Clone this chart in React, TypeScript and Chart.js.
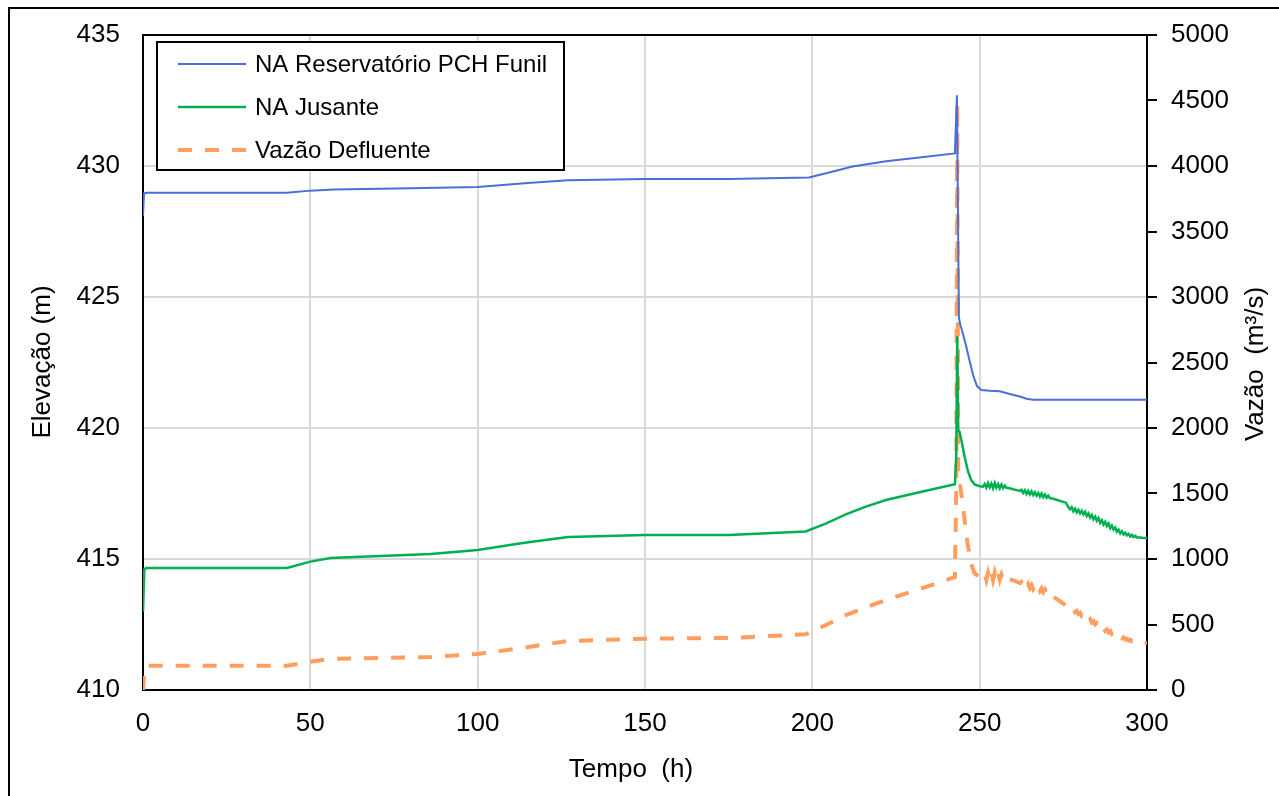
import React, { useEffect, useRef } from "react";
import { Chart, registerables } from "chart.js";

Chart.register(...registerables);

const FONT = "'Liberation Sans', Arial, sans-serif";

// X-axis ticks
const xTicks = [0, 50, 100, 150, 200, 250, 300];

// NA Reservatório PCH Funil (m)
const tRes = [0, 0.3, 1, 43, 50, 57, 80, 100, 115, 127, 150, 175, 199, 205, 212, 222, 232, 242.6, 243.2, 243.8, 244.3, 245.0, 246.0, 247.1, 248.2, 249.2, 250.5, 253, 256, 259, 262, 264, 266, 300];
const naRes = [428.1, 428.95, 428.98, 428.98, 429.06, 429.1, 429.15, 429.2, 429.35, 429.46, 429.5, 429.5, 429.56, 429.75, 429.98, 430.18, 430.32, 430.48, 432.7, 424.2, 423.9, 423.6, 423.1, 422.5, 421.95, 421.6, 421.45, 421.42, 421.4, 421.3, 421.2, 421.12, 421.08, 421.08];

// Shared time stamps for the downstream level and discharge series (h)
const tSeries = [0, 0.4, 1, 43, 50, 56, 86, 100, 113, 127, 150, 175, 198, 204, 210, 216, 222, 232, 242.6, 243.0, 243.3, 243.6, 244.0, 244.6, 245.5, 246.5, 247.5, 248.5, 250,
  251, 251.5, 252, 252.5, 253, 253.5, 254, 254.5, 255, 255.5, 256, 256.5, 257, 257.5, 258, 259, 260, 261, 262,
  262.5, 263, 263.5, 264, 264.5, 265, 265.5, 266, 266.5, 267, 267.5, 268, 268.5, 269, 269.5, 270, 270.5, 271, 272, 274, 275.8, 276.4,
  277, 277.5, 278, 278.5, 279, 279.5, 280, 280.5, 281, 281.5, 282, 282.5, 283, 283.5, 284, 284.5, 285, 285.5, 286, 286.5, 287, 287.5, 288, 288.5,
  289, 289.5, 290, 290.5, 291, 291.5, 292, 292.5, 293, 293.5, 294, 294.5, 295, 295.5, 296, 296.5, 297, 298, 299, 300];

// NA Jusante (m)
const naJus = [413.0, 414.6, 414.66, 414.66, 414.9, 415.04, 415.19, 415.34, 415.6, 415.84, 415.92, 415.92, 416.05, 416.35, 416.7, 417.0, 417.25, 417.55, 417.85, 418.9, 423.5, 419.9, 419.85, 419.5, 418.9, 418.35, 418.0, 417.85, 417.78,
  417.76, 417.86, 417.72, 417.9, 417.74, 417.88, 417.7, 417.9, 417.72, 417.86, 417.7, 417.84, 417.7, 417.8, 417.72, 417.7, 417.66, 417.63, 417.6,
  417.64, 417.52, 417.62, 417.48, 417.6, 417.46, 417.58, 417.44, 417.55, 417.42, 417.52, 417.38, 417.5, 417.36, 417.46, 417.34, 417.42, 417.32, 417.3, 417.22, 417.15, 417.0,
  416.9, 416.98, 416.82, 416.92, 416.78, 416.88, 416.74, 416.84, 416.7, 416.8, 416.64, 416.74, 416.58, 416.68, 416.52, 416.62, 416.46, 416.56, 416.38, 416.48, 416.32, 416.42, 416.26, 416.36,
  416.18, 416.28, 416.12, 416.2, 416.04, 416.12, 415.98, 416.06, 415.94, 416.0, 415.9, 415.96, 415.86, 415.92, 415.84, 415.88, 415.82, 415.82, 415.8, 415.8];

// Vazão Defluente (m³/s)
const qDef = [0, 150, 185, 185, 215, 237, 252, 275, 320, 374, 392, 397, 425, 495, 572, 630, 687, 770, 862, 1500, 4480, 1650, 1600, 1480, 1300, 1100, 960, 890, 862,
  850, 885, 840, 895, 845, 900, 840, 895, 845, 890, 840, 880, 845, 870, 848, 845, 838, 828, 815,
  825, 795, 815, 785, 808, 778, 800, 770, 792, 762, 785, 755, 775, 748, 768, 740, 758, 730, 712, 678, 645, 640,
  640, 612, 622, 595, 605, 580, 590, 565, 575, 548, 560, 532, 542, 515, 526, 500, 510, 484, 494, 468, 478, 452, 462, 440,
  450, 428, 436, 416, 424, 405, 412, 395, 402, 386, 392, 378, 384, 372, 376, 366, 370, 362, 360, 358];

const COLOR_RES = "#4A6FD6";
const COLOR_JUS = "#00B050";
const COLOR_Q = "#FF9E5E";

const legendItems = [
  { label: "NA Reservatório PCH Funil", color: COLOR_RES, width: 2, dash: [] as number[] },
  { label: "NA Jusante", color: COLOR_JUS, width: 2.5, dash: [] as number[] },
  { label: "Vazão Defluente", color: COLOR_Q, width: 4, dash: [14, 13] },
];

const toPts = (ts: number[], vs: number[]) => ts.map((t, i) => ({ x: t, y: vs[i] }));

const decorPlugin = {
  id: "decor",
  afterDraw(chart: any) {
    const ctx = chart.ctx as CanvasRenderingContext2D;
    const ca = chart.chartArea;
    ctx.save();
    ctx.strokeStyle = "#000";
    ctx.lineWidth = 2;
    ctx.strokeRect(9, 8, 1400, 1000);
    ctx.beginPath();
    ctx.moveTo(ca.left - 1, ca.top);
    ctx.lineTo(ca.right + 10, ca.top);
    ctx.stroke();

    ctx.fillStyle = "#fff";
    ctx.fillRect(157, 42, 407, 128);
    ctx.strokeStyle = "#000";
    ctx.lineWidth = 2;
    ctx.strokeRect(157, 42, 407, 128);
    ctx.font = `24px ${FONT}`;
    ctx.textBaseline = "middle";
    ctx.textAlign = "left";
    const rows = [64, 107, 150];
    legendItems.forEach((it, i) => {
      const y = rows[i];
      ctx.beginPath();
      ctx.strokeStyle = it.color;
      ctx.lineWidth = it.width;
      ctx.setLineDash(it.dash);
      ctx.moveTo(178, y);
      ctx.lineTo(246, y);
      ctx.stroke();
      ctx.setLineDash([]);
      ctx.fillStyle = "#000";
      ctx.fillText(it.label, 255, y + 1);
    });

    ctx.fillStyle = "#000";
    ctx.font = `26px ${FONT}`;
    ctx.textAlign = "center";
    ctx.textBaseline = "middle";
    ctx.fillText("Tempo  (h)", 631, 770);
    ctx.save();
    ctx.translate(43, 362);
    ctx.rotate(-Math.PI / 2);
    ctx.fillText("Elevação (m)", 0, 0);
    ctx.restore();
    ctx.save();
    ctx.translate(1256, 364);
    ctx.rotate(-Math.PI / 2);
    ctx.fillText("Vazão  (m³/s)", 0, 0);
    ctx.restore();
    ctx.restore();
  },
};

export default function App() {
  const ref = useRef<HTMLCanvasElement | null>(null);
  useEffect(() => {
    if (!ref.current) return;
    const chart = new Chart(ref.current, {
      type: "line",
      data: {
        datasets: [
          {
            label: legendItems[0].label,
            data: toPts(tRes, naRes),
            borderColor: COLOR_RES,
            borderWidth: 2,
            pointRadius: 0,
            tension: 0,
            yAxisID: "y",
          },
          {
            label: legendItems[1].label,
            data: toPts(tSeries, naJus),
            borderColor: COLOR_JUS,
            borderWidth: 2.5,
            pointRadius: 0,
            tension: 0,
            yAxisID: "y",
          },
          {
            label: legendItems[2].label,
            data: toPts(tSeries, qDef),
            borderColor: COLOR_Q,
            borderWidth: 4,
            borderDash: [14, 13],
            pointRadius: 0,
            tension: 0,
            yAxisID: "y2",
          },
        ],
      },
      options: {
        responsive: false,
        animation: false,
        parsing: false,
        layout: { padding: { left: 0, right: 0, top: 35, bottom: 0 } },
        plugins: { legend: { display: false }, tooltip: { enabled: false } },
        scales: {
          x: {
            type: "linear",
            min: 0,
            max: 300,
            afterBuildTicks: (s: any) => { s.ticks = xTicks.map((v) => ({ value: v })); },
            afterFit: (s: any) => { s.height = 106; s.paddingLeft = 0; s.paddingRight = 0; },
            grid: { color: "#D9D9D9", lineWidth: 2, drawTicks: false },
            border: { display: true, color: "#000", width: 2 },
            ticks: { padding: 18, color: "#000", font: { family: FONT, size: 26 }, maxRotation: 0, callback: (v: any) => String(v) },
          },
          y: {
            type: "linear",
            position: "left",
            min: 410,
            max: 435,
            ticks: { stepSize: 5, padding: 23, color: "#000", font: { family: FONT, size: 26 }, callback: (v: any) => String(v) },
            afterFit: (s: any) => { s.width = 143; s.paddingTop = 0; s.paddingBottom = 0; },
            grid: { color: "#D9D9D9", lineWidth: 2, drawTicks: false },
            border: { display: true, color: "#000", width: 2 },
          },
          y2: {
            type: "linear",
            position: "right",
            min: 0,
            max: 5000,
            ticks: { stepSize: 500, padding: 14, color: "#000", font: { family: FONT, size: 26 }, callback: (v: any) => String(v) },
            afterFit: (s: any) => { s.width = 132; s.paddingTop = 0; s.paddingBottom = 0; },
            grid: { drawOnChartArea: false, drawTicks: true, tickLength: 10, color: "#000", lineWidth: 2 },
            border: { display: true, color: "#000", width: 2 },
          },
        },
      },
      plugins: [decorPlugin],
    });
    return () => chart.destroy();
  }, []);
  return (
    <div style={{ position: "fixed", left: 0, top: 0, width: 1279, height: 796, background: "#fff", overflow: "hidden" }}>
      <canvas ref={ref} width={1279} height={796} style={{ display: "block", width: 1279, height: 796 }} />
    </div>
  );
}
